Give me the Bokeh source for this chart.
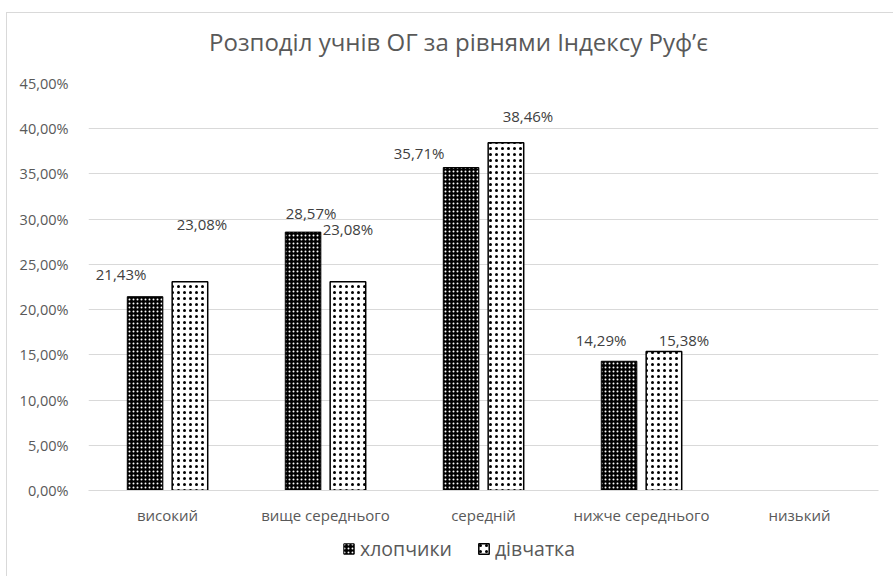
from bokeh.plotting import figure
from bokeh.layouts import column
from bokeh.models import ColumnDataSource, CustomJSTickFormatter, Legend, LegendItem, Label
from bokeh.transform import dodge
from bokeh.core.properties import value
from bokeh.embed import file_html
from bokeh.resources import INLINE

nan = float("nan")
categories = ["високий", "вище середнього", "середній", "нижче середнього", "низький"]
boys = [21.43, 28.57, 35.71, 14.29, nan]
girls = [23.08, 23.08, 38.46, 15.38, nan]
series_names = ["хлопчики", "дівчатка"]
title_text = "Розподіл учнів ОГ за рівнями Індексу Руф’є"

# label pixel offsets (style only), relative to bar centre/top
boys_label_dx = [-24, 8, -42, -18]
boys_label_dy = [23, 19, 15, 21]
girls_label_dx = [12, 0, 22, 20]
girls_label_dy = [58, 53, 27, 11]

FONT = "Open Sans"
TXT = "#595959"
W = 886

boys_style = dict(fill_color="black", line_color="black", line_width=1,
                  hatch_pattern="dot", hatch_color="white", hatch_scale=4, hatch_weight=1)
girls_style = dict(fill_color="white", line_color="black", line_width=1.5,
                   hatch_pattern="dot", hatch_color="black", hatch_scale=6, hatch_weight=0.6)

def strip(h):
    f = figure(width=W, height=h, x_range=(0, 1), y_range=(0, 1), output_backend="svg",
               toolbar_location=None, min_border=0, x_axis_location=None, y_axis_location=None)
    f.grid.visible = False
    f.outline_line_color = None
    return f

# title strip (its frame is aligned with the chart frame below)
tf = strip(60)
tf.add_layout(Label(x=370, y=32, x_units="screen", y_units="screen", text=title_text,
                    text_align="center", text_baseline="middle", text_font=FONT,
                    text_font_size="24px", text_color=TXT))

p = figure(x_range=categories, y_range=(0, 45), width=W, height=462,
           output_backend="svg", toolbar_location=None,
           min_border_left=81, min_border_right=15, min_border_top=10, min_border_bottom=45)

src = ColumnDataSource(dict(cat=categories, boys=boys, girls=girls))
bw = 0.225
p.vbar(x=dodge("cat", -0.142, range=p.x_range), top="boys", width=bw, source=src, **boys_style)
p.vbar(x=dodge("cat", 0.142, range=p.x_range), top="girls", width=bw, source=src, **girls_style)

def fmt(v):
    return ("%.2f" % v).replace(".", ",") + "%"

nb = [i for i, v in enumerate(boys) if v == v]
ng = [i for i, v in enumerate(girls) if v == v]
lb = ColumnDataSource(dict(cat=[categories[i] for i in nb], y=[boys[i] for i in nb],
                           t=[fmt(boys[i]) for i in nb],
                           dx=boys_label_dx, dy=[-d for d in boys_label_dy]))
lg = ColumnDataSource(dict(cat=[categories[i] for i in ng], y=[girls[i] for i in ng],
                           t=[fmt(girls[i]) for i in ng],
                           dx=girls_label_dx, dy=[-d for d in girls_label_dy]))
for s, off in ((lb, -0.142), (lg, 0.142)):
    p.text(x=dodge("cat", off, range=p.x_range), y="y", text="t", source=s,
           x_offset="dx", y_offset="dy", text_align="center", text_baseline="middle",
           text_font=value(FONT), text_font_size="15px", text_color="#404040")

p.yaxis.ticker = [0, 5, 10, 15, 20, 25, 30, 35, 40, 45]
p.yaxis.formatter = CustomJSTickFormatter(code="return tick.toFixed(2).replace('.', ',') + '%';")
for ax in (p.xaxis, p.yaxis):
    ax.major_tick_line_color = None
    ax.minor_tick_line_color = None
    ax.major_label_text_font = FONT
    ax.major_label_text_font_size = "14.5px"
    ax.major_label_text_color = TXT
p.xaxis.major_label_text_font_size = "15px"
p.yaxis.axis_line_color = None
p.yaxis.major_label_standoff = 14
p.xaxis.axis_line_color = "#d9d9d9"
p.xaxis.major_label_standoff = 8
p.xgrid.grid_line_color = None
p.ygrid.grid_line_color = "#d9d9d9"
p.outline_line_color = None

# legend strip below the chart (swatch renderers carry no drawable data)
lf = strip(41)
swatch = ColumnDataSource(dict(x=[0.5], top=[nan], bottom=[nan]))
r1 = lf.vbar(x="x", top="top", bottom="bottom", width=0.1, source=swatch, **boys_style)
r2 = lf.vbar(x="x", top="top", bottom="bottom", width=0.1, source=swatch, **girls_style)
legend = Legend(items=[LegendItem(label=series_names[0], renderers=[r1]),
                       LegendItem(label=series_names[1], renderers=[r2])],
                orientation="horizontal", location=(254, 14), padding=0, margin=0,
                spacing=25, glyph_width=13, glyph_height=13, label_standoff=5,
                label_text_font=FONT, label_text_font_size="19.5px", label_text_color=TXT,
                background_fill_alpha=0, border_line_color=None)
lf.add_layout(legend, "center")

layout = column(tf, p, lf, spacing=0)
layout.styles = {"margin-left": "6px", "margin-top": "12px",
                 "border-left": "1px solid #d9d9d9", "border-top": "1px solid #d9d9d9"}

open("out.html", "w").write(file_html(layout, INLINE))
